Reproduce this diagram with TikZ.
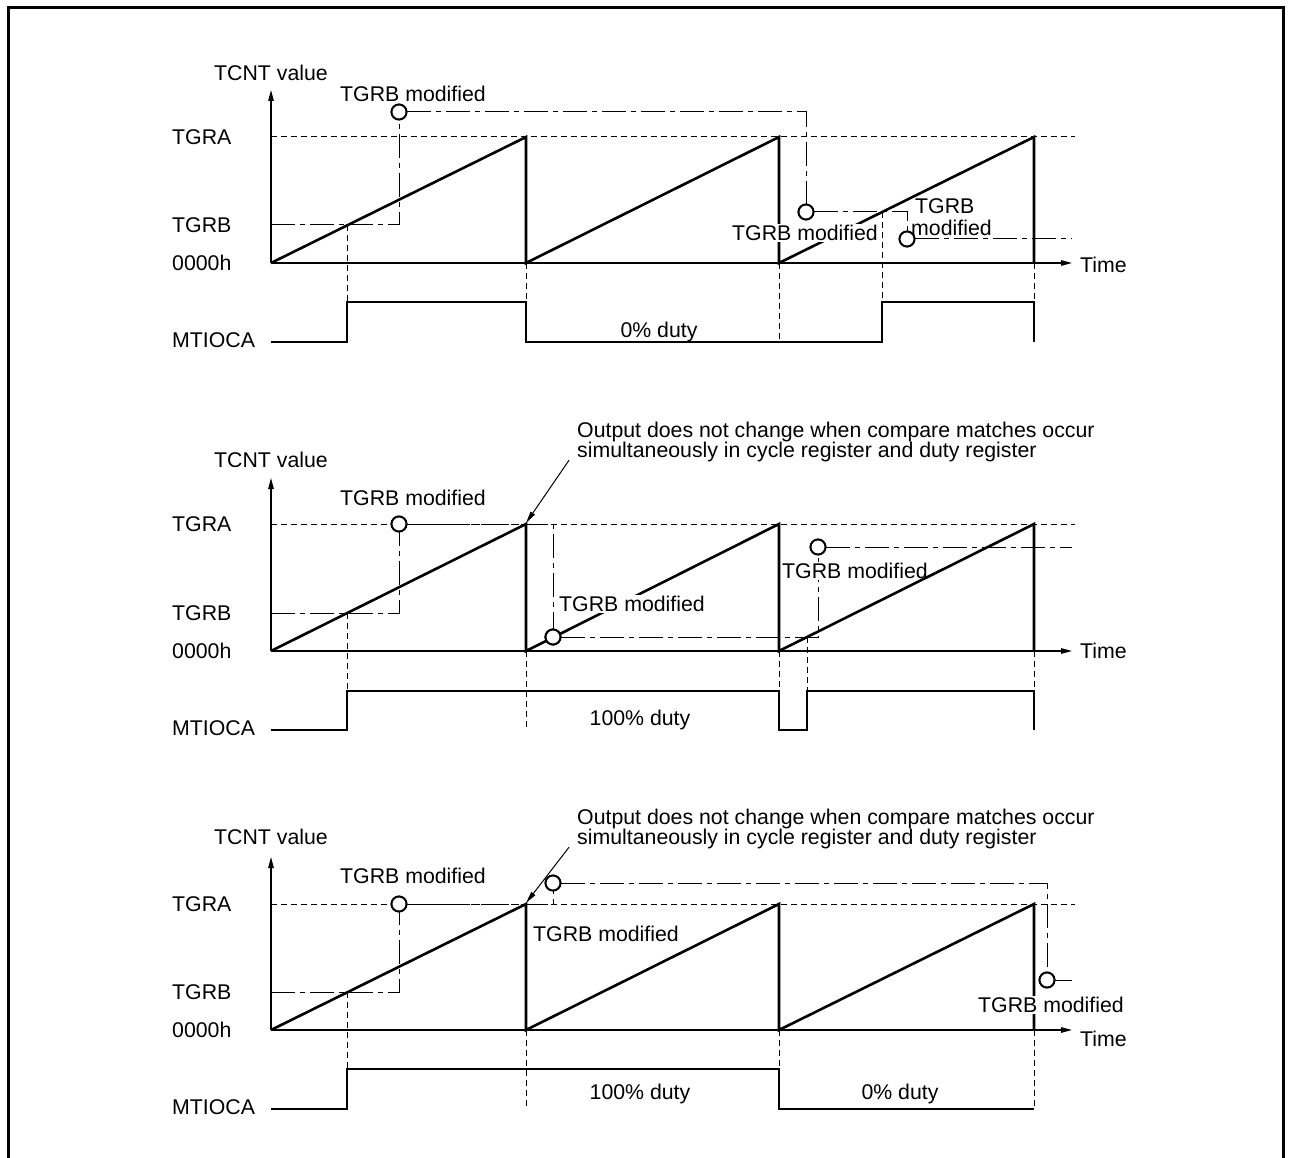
\documentclass[tikz,border=0pt]{standalone}
\usepackage{fontspec}
\setmainfont{Liberation Sans}
\usetikzlibrary{arrows.meta}
\tikzset{
  wave/.style={line width=2.6pt, line join=miter},
  axisline/.style={line width=1.3pt},
  guide/.style={line width=1pt, dash pattern=on 6pt off 4pt},
  chain/.style={line width=1pt, dash pattern=on 24pt off 5pt on 5pt off 5pt},
  ring/.style={circle, draw, line width=1.9pt, fill=white, minimum size=15pt, inner sep=0pt},
  lbl/.style={font=\fontsize{21.3}{24}\selectfont, inner sep=0pt},
  whitelbl/.style={lbl, fill=white, inner sep=1.5pt},
  note/.style={font=\fontsize{21.3}{20}\selectfont, inner sep=0pt, align=left, anchor=north west},
  axtip/.style={-{Triangle[length=11pt,width=5.5pt]}},
  notetip/.style={line width=1pt, -{Triangle[length=12pt,width=5pt]}},
}
\begin{document}
\begin{tikzpicture}[x=1pt,y=-1pt]
\useasboundingbox (0,0) rectangle (1291,1158);
\draw[line width=3pt] (8,1158) -- (8,8) -- (1283,8) -- (1283,1158);

%================ Panel 1 ================
\coordinate (aO) at (271,263);
\coordinate (aYtop) at (271,90);
\coordinate (aXend) at (1072,263);
\node[lbl] (aTCNT) at (271,73) {TCNT value};
\node[lbl, anchor=west] (aTGRA) at (172,137) {TGRA};
\node[lbl, anchor=west] (aTGRB) at (172,225) {TGRB};
\node[lbl, anchor=west] (aZero) at (172,263) {0000h};
\node[lbl, anchor=west] (aMT) at (172,340) {MTIOCA};
\node[lbl, anchor=west] (aTime) at (1080,265) {Time};
% guides
\draw[guide] (271,137) -- (1075,137);
\draw[guide] (347,225) -- (347,302);
\draw[guide] (526,263) -- (526,342);
\draw[guide] (779,263) -- (779,342);
\draw[guide] (882,212) -- (882,302);
\draw[guide] (1034,263) -- (1034,342);
% circles
\node[ring] (ac1) at (399,112) {};
\node[ring] (ac2) at (806,212) {};
\node[ring] (ac3) at (907,239) {};
\draw[chain] (271,225) -| (ac1.south);
\draw[chain] (ac1.east) -| (ac2.north);
\draw[chain] (ac2.east) -| (ac3.north);
\draw[chain] (ac3.east) -- (1072,239);
\node[ring] at (ac1) {};
\node[ring] at (ac2) {};
\node[ring] at (ac3) {};
% axes
\draw[axisline, axtip] (aO) -- (aYtop);
\draw[axisline, axtip] (aO) -- (aXend);
% waveforms
\draw[wave] (aO) -- (526,137) -- (526,263) -- (779,137) -- (779,263) -- (1034,137) -- (1034,263);
\draw[wave] (271,342) -- (347,342) -- (347,302) -- (526,302) -- (526,342) -- (882,342) -- (882,302) -- (1034,302) -- (1034,342);
% labels
\node[lbl] (al1) at (413,94) {TGRB modified};
\node[whitelbl] (al2) at (805,233) {TGRB modified};
\node[lbl, anchor=west] (al3a) at (915,206) {TGRB};
\node[lbl, anchor=west] (al3b) at (911,228) {modified};
\node[lbl] (aduty) at (659,332) {0\% duty};

%================ Panel 2 ================
\coordinate (bO) at (271,651);
\coordinate (bYtop) at (271,478);
\coordinate (bXend) at (1072,651);
\coordinate (bPeak) at (526,523);
\node[lbl] (bTCNT) at (271,460) {TCNT value};
\node[lbl, anchor=west] (bTGRA) at (172,524) {TGRA};
\node[lbl, anchor=west] (bTGRB) at (172,613) {TGRB};
\node[lbl, anchor=west] (bZero) at (172,651) {0000h};
\node[lbl, anchor=west] (bMT) at (172,728) {MTIOCA};
\node[lbl, anchor=west] (bTime) at (1080,651) {Time};
\node[note] (bnote) at (577,422) {Output does not change when compare matches occur\\simultaneously in cycle register and duty register};
% guides
\draw[guide] (271,524) -- (1075,524);
\draw[guide] (347,613) -- (347,691);
\draw[guide] (526,651) -- (526,730);
\draw[guide] (779,651) -- (779,730);
\draw[guide] (807,637) -- (807,691);
\draw[guide] (1034,651) -- (1034,730);
% circles
\node[ring] (bc1) at (399,524) {};
\node[ring] (bc2) at (553,637) {};
\node[ring] (bc3) at (818,547) {};
\draw[chain] (271,613) -| (bc1.south);
\draw[chain] (bc1.east) -| (bc2.north);
\draw[chain] (bc2.east) -| (bc3.south);
\draw[chain] (bc3.east) -- (1072,547);
\node[ring] at (bc1) {};
\node[ring] at (bc2) {};
\node[ring] at (bc3) {};
\node[whitelbl] (bl3) at (855,571) {TGRB modified};
% axes
\draw[axisline, axtip] (bO) -- (bYtop);
\draw[axisline, axtip] (bO) -- (bXend);
% waveforms
\draw[wave] (bO) -- (526,524) -- (526,651) -- (779,524) -- (779,651) -- (1034,524) -- (1034,651);
\draw[wave] (271,730) -- (347,730) -- (347,691) -- (779,691) -- (779,730) -- (807,730) -- (807,691) -- (1034,691) -- (1034,730);
% labels
\node[lbl] (bl1) at (413,498) {TGRB modified};
\node[whitelbl] (bl2) at (632,604) {TGRB modified};
\node[lbl] (bduty) at (640,720) {100\% duty};
\node[ring] at (bc2) {};
\draw[notetip] ([xshift=-8pt,yshift=2pt]bnote.south west) -- (bPeak);

%================ Panel 3 ================
\coordinate (cO) at (271,1030);
\coordinate (cYtop) at (271,857);
\coordinate (cXend) at (1072,1030);
\coordinate (cPeak) at (526,903);
\node[lbl] (cTCNT) at (271,837) {TCNT value};
\node[lbl, anchor=west] (cTGRA) at (172,904) {TGRA};
\node[lbl, anchor=west] (cTGRB) at (172,992) {TGRB};
\node[lbl, anchor=west] (cZero) at (172,1030) {0000h};
\node[lbl, anchor=west] (cMT) at (172,1107) {MTIOCA};
\node[lbl, anchor=west] (cTime) at (1080,1039) {Time};
\node[note] (cnote) at (577,809) {Output does not change when compare matches occur\\simultaneously in cycle register and duty register};
% guides
\draw[guide] (271,904) -- (1075,904);
\draw[guide] (347,992) -- (347,1069);
\draw[guide] (526,1030) -- (526,1109);
\draw[guide] (779,1030) -- (779,1109);
\draw[guide] (1034,1030) -- (1034,1109);
% circles
\node[ring] (cc1) at (399,904) {};
\node[ring] (cc2) at (553,883) {};
\node[ring] (cc3) at (1047,980) {};
\draw[chain] (271,992) -| (cc1.south);
\draw[chain] (cc1.east) -| (cc2.south);
\draw[chain] (cc2.east) -| (cc3.north);
\draw[chain] (cc3.east) -- (1072,980);
\node[ring] at (cc1) {};
\node[ring] at (cc2) {};
% axes
\draw[axisline, axtip] (cO) -- (cYtop);
\draw[axisline, axtip] (cO) -- (cXend);
% waveforms
\draw[wave] (cO) -- (526,904) -- (526,1030) -- (779,904) -- (779,1030) -- (1034,904) -- (1034,1030);
\draw[wave] (271,1109) -- (347,1109) -- (347,1069) -- (779,1069) -- (779,1109) -- (1034,1109);
\node[ring] at (cc3) {};
% labels
\node[lbl] (cl1) at (413,876) {TGRB modified};
\node[lbl] (cl2) at (606,934) {TGRB modified};
\node[whitelbl] (cl3) at (1051,1005) {TGRB modified};
\node[lbl] (cduty1) at (640,1094) {100\% duty};
\node[lbl] (cduty2) at (900,1094) {0\% duty};
\draw[notetip] ([xshift=-8pt,yshift=2pt]cnote.south west) -- (cPeak);
\end{tikzpicture}
\end{document}
